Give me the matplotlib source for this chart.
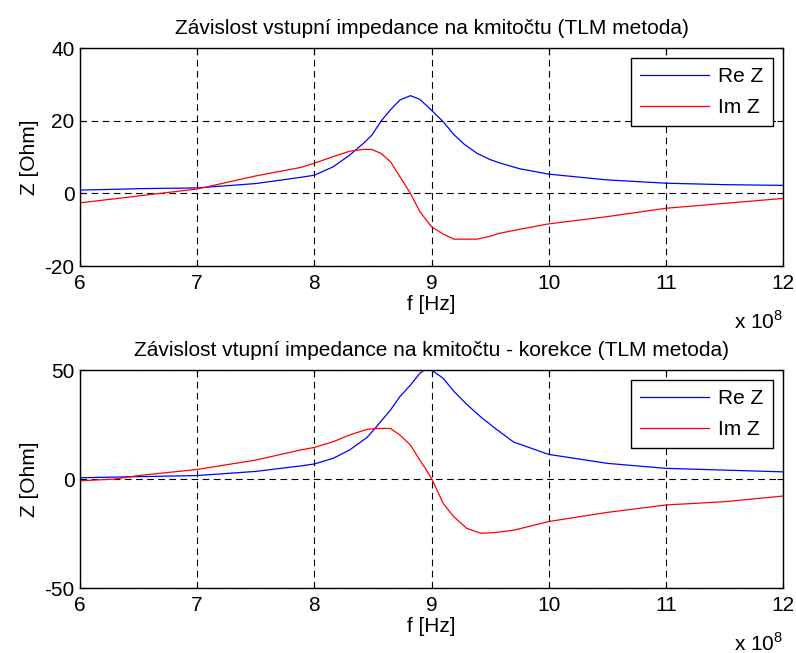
import numpy as np
import matplotlib
matplotlib.use("Agg")
import matplotlib.pyplot as plt

plt.rcParams['font.family'] = ['Liberation Sans', 'DejaVu Sans']
plt.rcParams['mathtext.fontset'] = 'custom'
plt.rcParams['mathtext.rm'] = 'Liberation Sans'
plt.rcParams['axes.unicode_minus'] = False

# Frequency points (x 1e8 Hz) and impedance read-outs, plain TLM
f_top = [6.0, 6.4, 6.5, 7.0, 7.5, 7.88, 8.0, 8.16, 8.3, 8.42, 8.49, 8.57, 8.65, 8.73,
         8.82, 8.9, 9.0, 9.1, 9.19, 9.28, 9.39, 9.5, 9.58, 9.75, 10.0, 10.5, 11.0, 11.5, 12.0]
re_top = [0.9, 1.2, 1.3, 1.5, 2.7, 4.4, 5.0, 7.3, 10.5, 13.8, 16.0, 19.9, 23.0, 25.7,
          26.9, 25.9, 22.9, 19.7, 16.2, 13.5, 11.0, 9.3, 8.4, 6.8, 5.3, 3.7, 2.8, 2.4, 2.2]
im_top = [-2.6, -1.1, -0.7, 1.2, 4.8, 7.1, 8.3, 10.1, 11.6, 12.1, 12.1, 11.0, 8.7, 4.6,
          0.0, -5.0, -9.2, -11.2, -12.6, -12.6, -12.6, -11.8, -11.0, -9.9, -8.4, -6.4, -4.1, -2.75, -1.4]

# Same sweep after correction
f_bot = [6.0, 6.3, 6.5, 7.0, 7.5, 7.88, 8.0, 8.16, 8.3, 8.45, 8.53, 8.65, 8.73, 8.82,
         8.9, 8.94, 9.0, 9.1, 9.19, 9.3, 9.42, 9.53, 9.7, 10.0, 10.5, 11.0, 11.5, 12.0]
re_bot = [0.6, 0.9, 1.1, 1.6, 3.5, 6.0, 6.9, 9.5, 13.3, 19.1, 24.0, 31.7, 37.8, 43.1,
          48.5, 50.0, 50.0, 46.2, 40.3, 34.3, 28.5, 23.8, 17.0, 11.3, 7.2, 4.9, 4.1, 3.3]
im_bot = [-0.8, 0.0, 1.6, 4.4, 8.7, 13.3, 14.5, 17.1, 20.2, 22.8, 23.2, 23.2, 20.2, 15.6,
          8.7, 5.5, 0.3, -11.2, -17.3, -22.6, -24.9, -24.6, -23.5, -19.5, -15.3, -11.9, -10.4, -7.8]

titles = ['Závislost vstupní impedance na kmitočtu (TLM metoda)',
          'Závislost vtupní impedance na kmitočtu - korekce (TLM metoda)']
ylims = [(-20, 40), (-50, 50)]
yticks = [[-20, 0, 20, 40], [-50, 0, 50]]

fig = plt.figure(figsize=(7.96, 6.53), dpi=100)
ax_top = fig.add_axes([0.1005, 0.5926, 0.8832, 0.3338])
ax_bot = fig.add_axes([0.1005, 0.0995, 0.8832, 0.3338])

fs = 15
for ax, f, re, im, title, ylim, yt in zip([ax_top, ax_bot], [f_top, f_bot], [re_top, re_bot],
                                          [im_top, im_bot], titles, ylims, yticks):
    ax.plot(f, re, '-', color='#0000ff', lw=0.9, label='Re Z')
    ax.plot(f, im, '-', color='#ff0000', lw=0.9, label='Im Z')
    ax.set_xlim(6, 12)
    ax.set_ylim(*ylim)
    ax.set_xticks(range(6, 13))
    ax.set_yticks(yt)
    ax.grid(True, color='k', linestyle=(0, (6, 4)), lw=0.8)
    ax.tick_params(direction='in', top=True, right=True, labelsize=fs, length=4)
    ax.tick_params(axis='x', pad=6)
    ax.tick_params(axis='y', pad=4)
    for s in ax.spines.values():
        s.set_linewidth(1.0)
    ax.set_title(title, fontsize=fs, pad=10)
    ax.set_xlabel('f [Hz]', fontsize=fs, labelpad=1)
    ax.set_ylabel('Z [Ohm]', fontsize=fs, labelpad=4)
    ax.annotate(r'x 10$^{8}$', xy=(1, 0), xycoords='axes fraction', xytext=(0, -45),
                textcoords='offset points', ha='right', va='baseline', fontsize=fs)
    leg = ax.legend(loc='upper right', fontsize=fs, fancybox=False, framealpha=1,
                    edgecolor='k', handlelength=3.3, handletextpad=0.45,
                    labelspacing=0.55, borderaxespad=0.48, borderpad=0.45)
    leg.get_frame().set_linewidth(1.0)

fig.savefig('out.png', dpi=100)
